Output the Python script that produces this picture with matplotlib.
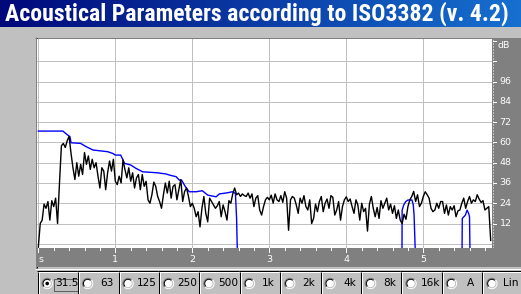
import numpy as np
import matplotlib
matplotlib.use('Agg')
import matplotlib.pyplot as plt
from matplotlib import font_manager
from matplotlib.colors import LinearSegmentedColormap
from matplotlib.patches import Circle, Rectangle, Arc

# ---------------- data ----------------
TITLE = 'Acoustical Parameters according to ISO3382 (v. 4.2)'
T_STEP = 0.025  # s between samples of the level trace
level_db = [
    -2, 12, 14, 23.5, 21, 25, 14, 25.5, 22, 27, 12, 36, 58, 59.4, 57, 61, 63.5, 53.5, 45, 38,
    48, 40, 47, 41, 54, 47, 52, 44, 50, 45, 48, 40, 33, 45, 43, 32, 42, 49, 43, 50,
    37, 35, 40, 36, 49.6, 44, 39, 45, 37, 42, 33, 39, 41, 32, 41, 34, 37, 26, 24, 29,
    36.5, 34, 28, 25, 21, 29, 36, 30, 37, 27, 34, 35, 26, 32, 38, 25, 31, 33, 28, 22,
    24, 21, 16, 19, 10, 21, 28, 18, 13, 27, 25, 23, 21, 22.5, 25, 16, 23, 19, 14, 25.5,
    24, 29.5, 33, 29, 30, 28, 29.5, 28.5, 28, 30, 27, 29.5, 22, 27, 28.5, 20, 17, 22, 26, 27.5,
    26, 28.8, 24, 29.5, 26, 25, 28.5, 24.5, 30.8, 27, 8, 26, 28, 27, 23, 18, 27, 24, 28.5, 22,
    20, 26, 12, 15, 23.5, 19, 25, 28, 19, 24, 26.5, 21, 28.5, 27.5, 17, 20, 25, 14, 22, 26,
    27.8, 25, 26.5, 22, 18, 26, 23, 14, 24, 19, 21, 7.5, 23.5, 28, 21, 16, 21.5, 15, 25.5, 21,
    24, 27, 20, 23.5, 18, 22.5, 15, 20, 14, 12, 17.5, 14.5, 22, 26, 28, 31, 25, 29, 22, 24,
    28, 30.8, 29, 27, 21, 19, 20, 24, 21, 25, 25, 18, 23, 17, 22, 20, 22.5, 16, 19.5, 20,
    24, 27, 21, 25, 28, 24, 26, 25, 29, 26.5, 24.5, 25.5, 20, 21, 22, 2,
]
nan = float('nan')
env_t = [0.0, 0.32, 0.35, 0.38, 0.41, 0.425, 0.55, 0.62, 0.71, 0.90, 0.966, 1.0, 1.07, 1.12,
         1.2, 1.27, 1.355, 1.55, 1.66, 1.70, 1.79, 1.83, 1.86, 1.91, 1.96, 2.05, 2.13, 2.2,
         2.31, 2.35, 2.46, 2.52, 2.56, 2.575, 2.585, nan,
         4.723, 4.725, 4.745, 4.77, 4.80, 4.853, 4.87, 4.88, 4.896, nan,
         5.503, 5.506, 5.524, 5.546, 5.568, 5.589, 5.60, 5.606]
env_db = [66.7, 66.7, 65.5, 64.4, 63.5, 59.8, 59.4, 57.5, 55.5, 54.5, 53.5, 52.5, 52.5, 47.6,
          46.6, 44.6, 42.6, 42.0, 41.3, 40.7, 39.7, 37.7, 37.7, 33.8, 30.8, 30.8, 31.4, 28.8,
          27.8, 29.5, 30.2, 30.8, 29.8, 15, -5, nan,
          -5, 19.9, 22.9, 24.9, 25.9, 25.9, 22.9, 16.9, -5, nan,
          -5, 15.0, 15.9, 16.9, 19.9, 17.9, 15.9, -5]
db_ticks = [12, 24, 36, 48, 60, 72, 84, 96]
db_grid = [0, 12, 24, 36, 48, 60, 72, 84, 96, 108]
time_ticks = [0, 1, 2, 3, 4, 5]
time_labels = ['s', '1', '2', '3', '4', '5']
bands = ['31.5', '63', '125', '250', '500', '1k', '2k', '4k', '8k', '16k', 'A', 'Lin']

# ---------------- figure ----------------
W, H, DPI = 521, 294, 100
GRAY = '#c0c0c0'
DARK = '#808080'
fig = plt.figure(figsize=(W / DPI, H / DPI), dpi=DPI)
fig.patch.set_facecolor(GRAY)
LW = 72.0 / DPI  # one pixel


def px_axes(x0, y0, x1, y1, **kw):
    return fig.add_axes([x0 / W, 1 - y1 / H, (x1 - x0) / W, (y1 - y0) / H], **kw)


def bare(a):
    for s in a.spines.values():
        s.set_visible(False)
    a.set_xticks([])
    a.set_yticks([])


def pick(fams):
    for f in fams:
        try:
            font_manager.findfont(font_manager.FontProperties(family=f, weight='bold'),
                                  fallback_to_default=False)
            return f
        except Exception:
            pass
    return 'DejaVu Sans'


bg = px_axes(0, 0, W, H)
bg.axis('off')
bg.set_zorder(0)
grad = np.linspace(0, 1, 256)[None, :]
cmap = LinearSegmentedColormap.from_list('tb', ['#00087a', '#1670d0'])
bg.imshow(grad, extent=[0, W, 27, 0], cmap=cmap, aspect='auto', interpolation='bilinear')
bg.set_xlim(0, W)
bg.set_ylim(H, 0)

title_font = pick(['Liberation Sans Narrow', 'Roboto Condensed', 'Liberation Sans', 'DejaVu Sans'])
tt = bg.text(5, 14, TITLE, color='white', fontweight='bold', fontsize=14,
             family=title_font, va='center', ha='left')
fig.canvas.draw()
wpx = tt.get_window_extent().width
tt.set_fontsize(14 * 503.0 / wpx)


def hline(a, y, x0, x1, c):
    a.plot([x0, x1], [y + 0.5, y + 0.5], color=c, lw=LW, solid_capstyle='butt')


def vline(a, x, y0, y1, c):
    a.plot([x + 0.5, x + 0.5], [y0, y1], color=c, lw=LW, solid_capstyle='butt')


# panel sunken border
hline(bg, 37, 35, W, DARK)
hline(bg, 38, 36, W, 'black')
vline(bg, 35, 37, 269, DARK)
vline(bg, 36, 38, 268, 'black')
hline(bg, 268, 35, W, 'white')

# ---------------- plot area ----------------
X0, X1 = -0.017, 5.892
Y0, Y1 = -2.5, 121.2
ax = px_axes(37, 39, 492, 248)
ax.set_zorder(2)
ax.set_facecolor('white')
ax.set_xlim(X0, X1)
ax.set_ylim(Y0, Y1)
bare(ax)
for g in db_grid:
    ax.axhline(g, color=GRAY, lw=LW, zorder=1)
for t in time_ticks:
    ax.axvline(t, color=GRAY, lw=LW, zorder=1)

t_level = np.arange(len(level_db)) * T_STEP
ax.plot(env_t, env_db, color='#0000ff', lw=1.0, zorder=3)
ax.plot(t_level, level_db, color='black', lw=1.0, zorder=4)

# right dB strip
axR = px_axes(492, 39, 521, 248)
axR.set_zorder(2)
axR.set_facecolor(DARK)
axR.set_ylim(Y0, Y1)
axR.set_xlim(0, 29)
bare(axR)
axR.plot([0.8, 0.8], [Y0, Y1], color='white', lw=LW, ls=(0, (1, 2)))
for d in db_ticks + [108, 120]:
    axR.plot([0.5, 3.5], [d, d], color='white', lw=LW)
for d in db_ticks:
    axR.text(7.5, d, str(d), color='white', fontsize=6.8, va='center', ha='left')
axR.text(5.0, 117.5, 'dB', color='white', fontsize=6.8, va='center', ha='left')

# bottom time strip
axB = px_axes(37, 248, 521, 267)
axB.set_zorder(2)
axB.set_facecolor(DARK)
axB.set_xlim(X0, X0 + (521 - 37) / 77.0)
axB.set_ylim(0, 1)
bare(axB)
for k in range(0, 30):
    t = k * 0.2
    ln = 0.22 if k % 5 == 0 else 0.12
    axB.plot([t, t], [1, 1 - ln], color='white', lw=LW)
for t, lab in zip(time_ticks, time_labels):
    axB.text(t, 0.42, lab, color='white', fontsize=6.8,
             va='center', ha='left' if lab == 's' else 'center')

# ---------------- band selector ----------------
left, step = 36.7, 40.42
for k, lab in enumerate(bands):
    bx0 = left + k * step
    bx1 = bx0 + step
    xi = int(round(bx0))
    vline(bg, xi, 271, H, 'black')
    vline(bg, xi + 1, 272, H, 'white')
    hline(bg, 270, xi, int(round(bx1)), 'black')
    hline(bg, 271, xi + 1, int(round(bx1)), 'white')
    cx, cy = bx0 + 10.5, 283.5
    bg.add_patch(Circle((cx, cy), 5.0, facecolor='white', edgecolor='none'))
    bg.add_patch(Arc((cx, cy), 10.4, 10.4, theta1=135, theta2=315, color=DARK, lw=LW))
    bg.add_patch(Arc((cx, cy), 10.4, 10.4, theta1=315, theta2=495, color='white', lw=LW))
    bg.add_patch(Arc((cx, cy), 8.4, 8.4, theta1=135, theta2=315, color='black', lw=LW))
    bg.add_patch(Arc((cx, cy), 8.4, 8.4, theta1=315, theta2=495, color=GRAY, lw=LW))
    if k == 0:
        bg.add_patch(Circle((cx, cy), 1.8, facecolor='black', edgecolor='none'))
    tx = (cx + 5.5 + bx1) / 2 + 1.5
    bg.text(tx, cy, lab, color='black', fontsize=7.6, ha='center', va='center')
    if k == 0:
        bg.add_patch(Rectangle((53.5, 278.5), 24, 12.5, fill=False, edgecolor='black',
                               lw=LW, ls=(0, (1, 1))))

fig.savefig('out.png', dpi=DPI, facecolor=fig.get_facecolor())
